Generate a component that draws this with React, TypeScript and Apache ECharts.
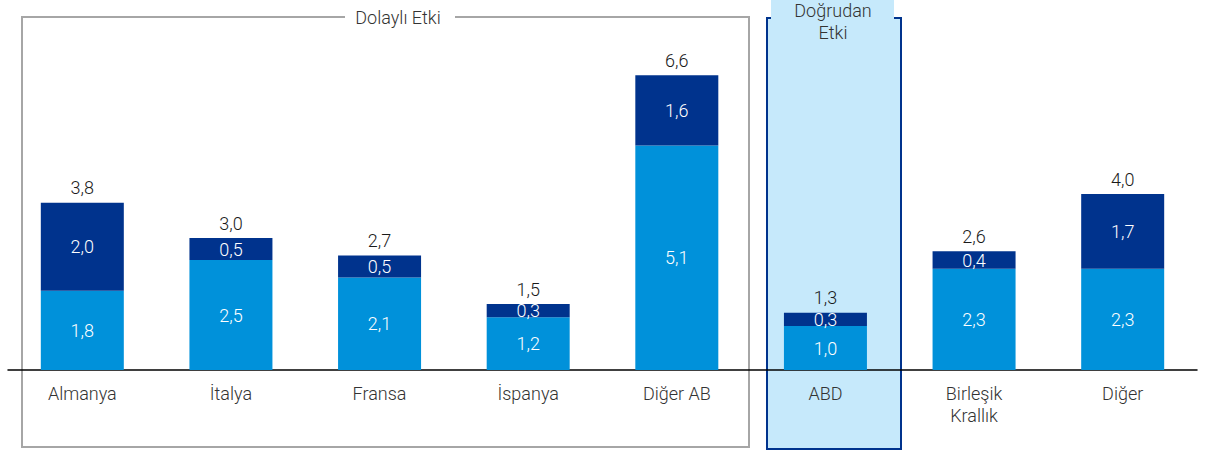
import React, { useEffect, useRef } from "react";
import * as echarts from "echarts";

const categories = ["Almanya", "İtalya", "Fransa", "İspanya", "Diğer AB", "ABD", "Birleşik\nKrallık", "Diğer"];
const baseValues = [1.8, 2.5, 2.1, 1.2, 5.1, 1.0, 2.3, 2.3];
const topValues = [2.0, 0.5, 0.5, 0.3, 1.6, 0.3, 0.4, 1.7];
const totalValues = [3.8, 3.0, 2.7, 1.5, 6.6, 1.3, 2.6, 4.0];
const groupTitles = ["Dolaylı Etki", "Doğrudan\nEtki"];

const FONT = "Roboto, 'Liberation Sans', Arial, sans-serif";
const FS = 18;
const FW = 300;
const fmt = (v: number) => v.toFixed(1).replace(".", ",");

export default function App() {
  const ref = useRef<HTMLDivElement>(null);
  useEffect(() => {
    document.body.style.margin = "0";
    if (!ref.current) return;
    const chart = echarts.init(ref.current, null, { renderer: "svg" });
    const gray = "#a6a6a6";
    const lightFill = "#c6e9fb";
    const navy = "#00338d";
    const inLabel = {
      show: true,
      position: "inside",
      color: "#fff",
      fontSize: FS,
      fontWeight: FW,
      fontFamily: FONT,
      formatter: (p: any) => fmt(p.value),
    };
    chart.setOption({
      animation: false,
      grid: { left: 8, right: 21, top: 18, bottom: 82, containLabel: false },
      xAxis: {
        type: "category",
        data: categories,
        axisLine: { lineStyle: { color: "#000", width: 1.5 } },
        axisTick: { show: false },
        axisLabel: {
          color: "#333",
          fontSize: FS,
          fontWeight: FW,
          fontFamily: FONT,
          margin: 12,
          lineHeight: 22,
          interval: 0,
        },
        z: 3,
      },
      yAxis: { type: "value", min: 0, max: 8, show: false },
      series: [
        {
          type: "bar",
          stack: "s",
          data: baseValues,
          barWidth: 83,
          itemStyle: { color: "#0091da" },
          label: inLabel,
          z: 4,
        },
        {
          type: "bar",
          stack: "s",
          data: topValues,
          barWidth: 83,
          itemStyle: { color: navy },
          label: inLabel,
          z: 4,
        },
        {
          type: "bar",
          stack: "s",
          data: totalValues.map(() => 0),
          barWidth: 83,
          itemStyle: { color: "transparent" },
          label: {
            show: true,
            position: "top",
            distance: 6,
            color: "#1a1a1a",
            fontSize: FS,
            fontWeight: FW,
            fontFamily: FONT,
            formatter: (p: any) => fmt(totalValues[p.dataIndex]),
          },
          z: 4,
        },
      ],
      graphic: [
        {
          type: "polyline",
          z: -1,
          shape: {
            points: [
              [345, 17],
              [22, 17],
              [22, 447],
              [749, 447],
              [749, 17],
              [455, 17],
            ],
          },
          style: { stroke: gray, lineWidth: 2, fill: null },
        },
        {
          type: "text",
          z: 10,
          x: 398,
          y: 17,
          style: {
            text: groupTitles[0],
            fill: "#333",
            font: `${FW} ${FS}px ${FONT}`,
            textAlign: "center",
            textVerticalAlign: "middle",
          },
        },
        {
          type: "rect",
          z: -2,
          shape: { x: 767, y: 18, width: 134, height: 431 },
          style: { fill: lightFill, stroke: navy, lineWidth: 2 },
        },
        {
          type: "rect",
          z: -1,
          shape: { x: 771, y: 0, width: 123, height: 21 },
          style: { fill: lightFill },
        },
        {
          type: "text",
          z: 10,
          x: 833,
          y: -1,
          style: {
            text: groupTitles[1],
            fill: "#333",
            font: `${FW} ${FS}px ${FONT}`,
            lineHeight: 22,
            textAlign: "center",
            textVerticalAlign: "top",
          },
        },
      ],
    });
    return () => chart.dispose();
  }, []);
  return <div ref={ref} style={{ width: 1218, height: 452 }} />;
}
